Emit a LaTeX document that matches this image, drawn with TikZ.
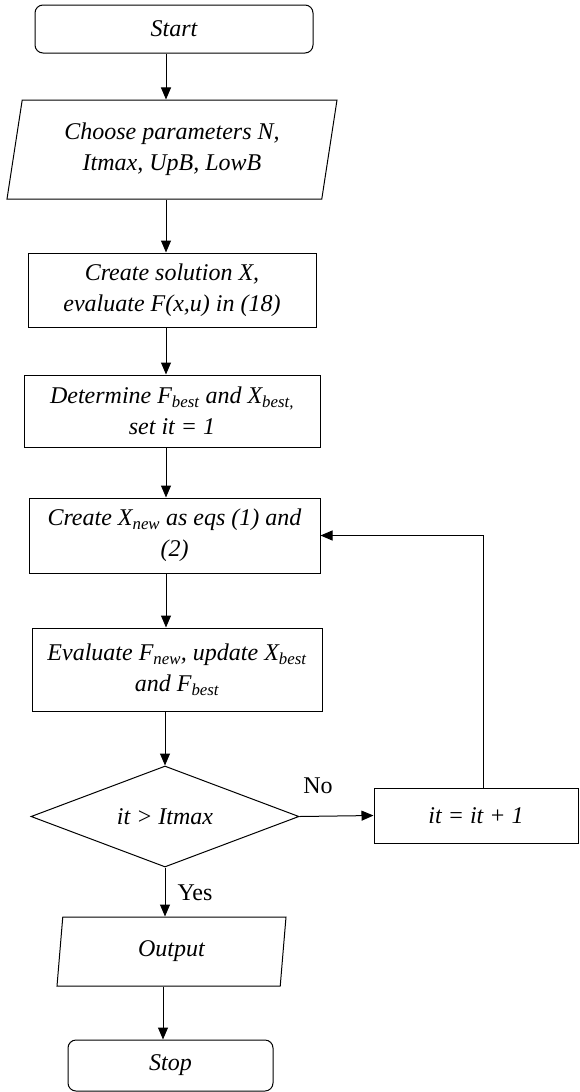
\documentclass[tikz,border=0pt]{standalone}
\usepackage{fontspec}
\setmainfont{Liberation Serif}
\usetikzlibrary{shapes.geometric,arrows.meta,calc}
\tikzset{
base/.style={
  draw,
  line width=1pt,
  align=center,
  inner sep=2pt,
  font=\itshape\fontsize{24}{31}\selectfont
  },
startstop/.style={base, rectangle, rounded corners=8pt},
process/.style={base, rectangle},
io/.style={base, trapezium, trapezium left angle=75, trapezium right angle=105,
  trapezium stretches body},
decision/.style={base, diamond, shape aspect=2.65, inner sep=0pt},
flow/.style={-{Triangle[length=12pt,width=10pt]}, line width=1pt},
lbl/.style={font=\fontsize{24}{28}\selectfont},
%note/.style={font=\small}
}

\begin{document}
\begin{tikzpicture}[x=1pt, y=-1pt]
    \useasboundingbox (0,0) rectangle (580,1092);
    \coordinate (col) at (166,0);
    \coordinate (loop) at (483,540);

    \node[startstop, minimum width=278pt, minimum height=48pt] (start) at (174,29) {Start};
    \node[io, minimum width=330pt, minimum height=99pt] (params) at (172,149.5)
        {Choose parameters N,\\ Itmax, UpB, LowB};
    \node[process, minimum width=288pt, minimum height=74pt] (create) at (172,290)
        {Create solution X,\\ evaluate F(x,u) in (18)};
    \node[process, minimum width=296pt, minimum height=72pt] (best) at (172,411)
        {Determine F\textsubscript{best} and X\textsubscript{best,}\\ set it = 1};
    \node[process, minimum width=291pt, minimum height=75pt] (xnew) at (174.5,535.5)
        {Create X\textsubscript{new} as eqs (1) and\\ (2)};
    \node[process, minimum width=290pt, minimum height=83pt] (eval) at (177,669.5)
        {Evaluate F\textsubscript{new}, update X\textsubscript{best}\\ and F\textsubscript{best}};
    \node[decision, minimum width=268pt, minimum height=101pt] (check) at (165,816.5)
        {it > Itmax};
    \node[process, minimum width=204pt, minimum height=55pt] (inc) at (476,815.5)
        {it = it + 1};
    \node[io, trapezium left angle=77, trapezium right angle=103,
          minimum width=229pt, minimum height=69pt] (out) at (171.5,951.5) {Output};
    \node[startstop, minimum width=205pt, minimum height=51pt] (stop) at (170.5,1065.5) {Stop};

    % main column
    \draw[flow] (start.south -| col) -- (params.north -| col);
    \draw[flow] (params.south -| col) -- (create.north -| col);
    \draw[flow] (create.south -| col) -- (best.north -| col);
    \draw[flow] (best.south -| col) -- (xnew.north -| col);
    \draw[flow] (xnew.south -| col) -- (eval.north -| col);
    \draw[flow] (eval.south -| check.north) -- (check.north);
    \draw[flow] (check.east) -- node[lbl, pos=0.25, yshift=31pt] {No} (inc.west);
    \draw[flow] (check.south) -- node[lbl, pos=0.52, xshift=30pt] {Yes} (out.north -| check.south);
    \draw[flow] (out.south -| 163,0) -- (stop.north -| 163,0);

    % loop back
    \draw[flow] (inc.north -| loop) |- (xnew.east);
\end{tikzpicture}
\end{document}
